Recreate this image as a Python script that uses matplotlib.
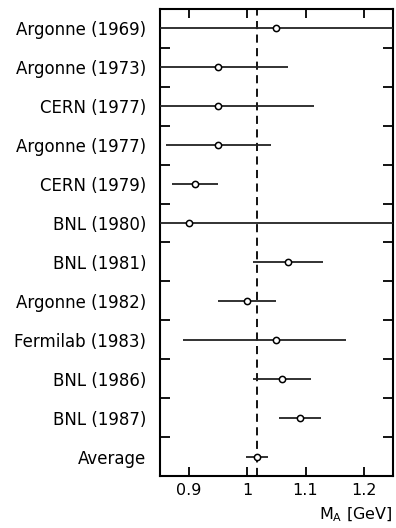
import numpy as np
import matplotlib.pyplot as plt
from matplotlib.ticker import FixedLocator, FuncFormatter

# measurements of the axial mass
labels = ['Argonne (1969)', 'Argonne (1973)', 'CERN (1977)', 'Argonne (1977)',
          'CERN (1979)', 'BNL (1980)', 'BNL (1981)', 'Argonne (1982)',
          'Fermilab (1983)', 'BNL (1986)', 'BNL (1987)', 'Average']
ma = [1.05, 0.95, 0.95, 0.95, 0.91, 0.90, 1.07, 1.00, 1.05, 1.06, 1.09, 1.016]
lo = [0.75, 0.80, 0.80, 0.86, 0.87, 0.75, 1.01, 0.95, 0.89, 1.01, 1.054, 0.998]
hi = [1.35, 1.07, 1.115, 1.04, 0.95, 1.35, 1.13, 1.05, 1.17, 1.11, 1.126, 1.035]
avg = 1.016

n = len(labels)
y = np.arange(n, 0, -1)
ma = np.array(ma)
err = [ma - np.array(lo), np.array(hi) - ma]

fig = plt.figure(figsize=(3.96, 5.28), dpi=100)
ax = fig.add_axes([0.404, 0.0985, 0.588, 0.8845])

ax.errorbar(ma, y, xerr=err, fmt='o', color='k', ecolor='#222222', elinewidth=1.3,
            capsize=0, ms=4.5, mfc='white', mec='k', mew=1.1, zorder=3)
ax.axvline(avg, color='k', lw=1.3, ls=(0, (4.5, 3)), zorder=2)

ax.set_xlim(0.85, 1.25)
ax.set_ylim(0.5, n + 0.5)

ax.set_xticks([0.9, 1.0, 1.1, 1.2])
ax.xaxis.set_major_formatter(FuncFormatter(lambda v, p: '%g' % v))
ax.set_yticks(y)
ax.set_yticklabels(labels)
ax.yaxis.set_minor_locator(FixedLocator(np.arange(1.5, n, 1.0)))

ax.tick_params(axis='x', which='major', direction='in', top=True, length=6.5,
               width=1.3, labelsize=11.5, pad=5)
ax.tick_params(axis='y', which='major', length=0, labelsize=12, pad=10)
ax.tick_params(axis='y', which='minor', direction='in', right=True, length=7,
               width=1.3)

for s in ax.spines.values():
    s.set_linewidth(1.5)

ax.set_xlabel(r'M$_\mathrm{A}$ [GeV]', loc='right', fontsize=11.5, labelpad=5.5)

fig.savefig('out.png', dpi=100)
